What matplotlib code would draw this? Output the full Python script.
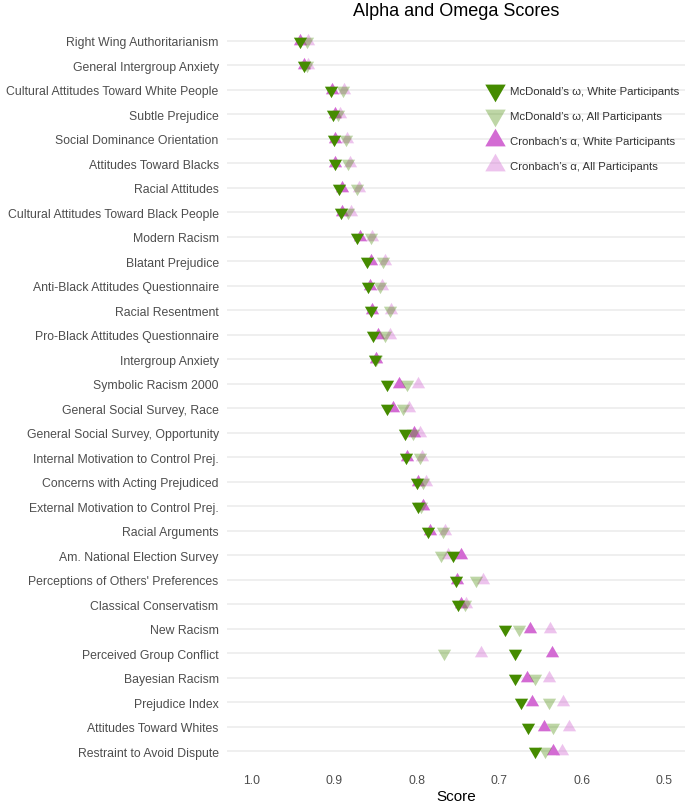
import matplotlib
matplotlib.use("Agg")
import matplotlib.pyplot as plt
from matplotlib.lines import Line2D

plt.rcParams['font.family'] = ['Liberation Sans', 'DejaVu Sans']

scales = [
    "Right Wing Authoritarianism", "General Intergroup Anxiety",
    "Cultural Attitudes Toward White People", "Subtle Prejudice",
    "Social Dominance Orientation", "Attitudes Toward Blacks",
    "Racial Attitudes", "Cultural Attitudes Toward Black People",
    "Modern Racism", "Blatant Prejudice",
    "Anti-Black Attitudes Questionnaire", "Racial Resentment",
    "Pro-Black Attitudes Questionnaire", "Intergroup Anxiety",
    "Symbolic Racism 2000", "General Social Survey, Race",
    "General Social Survey, Opportunity", "Internal Motivation to Control Prej.",
    "Concerns with Acting Prejudiced", "External Motivation to Control Prej.",
    "Racial Arguments", "Am. National Election Survey",
    "Perceptions of Others' Preferences", "Classical Conservatism",
    "New Racism", "Perceived Group Conflict", "Bayesian Racism",
    "Prejudice Index", "Attitudes Toward Whites", "Restraint to Avoid Dispute",
]

omega_white = [0.942, 0.937, 0.904, 0.901, 0.900, 0.899, 0.894, 0.892, 0.873, 0.860,
               0.859, 0.855, 0.853, 0.851, 0.836, 0.836, 0.814, 0.813, 0.800, 0.798,
               0.786, 0.756, 0.752, 0.750, 0.693, 0.681, 0.681, 0.674, 0.665, 0.657]
omega_all = [0.933, 0.933, 0.889, 0.896, 0.886, 0.883, 0.873, 0.883, 0.856, 0.841,
             0.844, 0.833, 0.838, 0.850, 0.812, 0.817, 0.805, 0.796, 0.792, 0.795,
             0.768, 0.771, 0.728, 0.742, 0.676, 0.767, 0.657, 0.640, 0.635, 0.645]
alpha_white = [0.942, 0.937, 0.903, 0.899, 0.899, 0.899, 0.891, 0.891, 0.869, 0.855,
               0.857, 0.854, 0.847, 0.849, 0.822, 0.829, 0.804, 0.812, 0.798, 0.792,
               0.784, 0.746, 0.751, 0.746, 0.663, 0.636, 0.667, 0.661, 0.646, 0.635]
alpha_all = [0.932, 0.932, 0.888, 0.893, 0.885, 0.881, 0.870, 0.880, 0.854, 0.838,
             0.842, 0.831, 0.832, 0.849, 0.799, 0.809, 0.796, 0.794, 0.789, 0.793,
             0.766, 0.762, 0.720, 0.740, 0.639, 0.722, 0.640, 0.623, 0.616, 0.624]

x_ticks = [1.0, 0.9, 0.8, 0.7, 0.6, 0.5]

GREEN = "#458B00"
ORCHID = "#D36BD3"

fig = plt.figure(figsize=(6.85, 8.03), dpi=100)
ax = fig.add_axes([0.3314, 0.0452, 0.6686, 0.921])

n = len(scales)
ypos = list(range(n))

down = (3, 0, 180)
up = (3, 0, 0)
ms = 11

for y in ypos:
    ax.axhline(y, color="#EBEBEB", lw=1.1, zorder=0)

ax.plot(alpha_all, ypos, ls="none", marker=up, ms=ms, color=ORCHID, alpha=0.4, mew=0, zorder=2)
ax.plot(alpha_white, ypos, ls="none", marker=up, ms=ms, color=ORCHID, alpha=1.0, mew=0, zorder=3)
ax.plot(omega_all, ypos, ls="none", marker=down, ms=ms, color=GREEN, alpha=0.35, mew=0, zorder=4)
ax.plot(omega_white, ypos, ls="none", marker=down, ms=ms, color=GREEN, alpha=1.0, mew=0, zorder=5)

ax.set_xlim(1.03, 0.475)
ax.set_ylim(n - 1 + 0.6, -0.6)
ax.set_yticks(ypos)
ax.set_yticklabels(scales)
ax.set_xticks(x_ticks)
ax.set_xticklabels([f"{v:.1f}" for v in x_ticks])
ax.tick_params(axis="both", length=0, labelsize=8.8, labelcolor="#4D4D4D")
ax.tick_params(axis="y", pad=6)
ax.tick_params(axis="x", pad=6)
for s in ax.spines.values():
    s.set_visible(False)
ax.set_xlabel("Score", fontsize=11, color="black", labelpad=2)
ax.set_title("Alpha and Omega Scores", fontsize=13, pad=8)

handles = [
    Line2D([], [], ls="none", marker=down, ms=17, color=GREEN, mew=0),
    Line2D([], [], ls="none", marker=down, ms=17, color=GREEN, alpha=0.35, mew=0),
    Line2D([], [], ls="none", marker=up, ms=17, color=ORCHID, mew=0),
    Line2D([], [], ls="none", marker=up, ms=17, color=ORCHID, alpha=0.4, mew=0),
]
labels = ["McDonald\u2019s \u03c9, White Participants", "McDonald\u2019s \u03c9, All Participants",
          "Cronbach\u2019s \u03b1, White Participants", "Cronbach\u2019s \u03b1, All Participants"]
leg = ax.legend(handles, labels, loc="upper left", bbox_to_anchor=(0.548, 0.933),
                frameon=False, fontsize=8.2, handlelength=1.2, handletextpad=0.7,
                labelspacing=1.32, labelcolor="#333333", borderpad=0.4)

fig.savefig("out.png", dpi=100)
